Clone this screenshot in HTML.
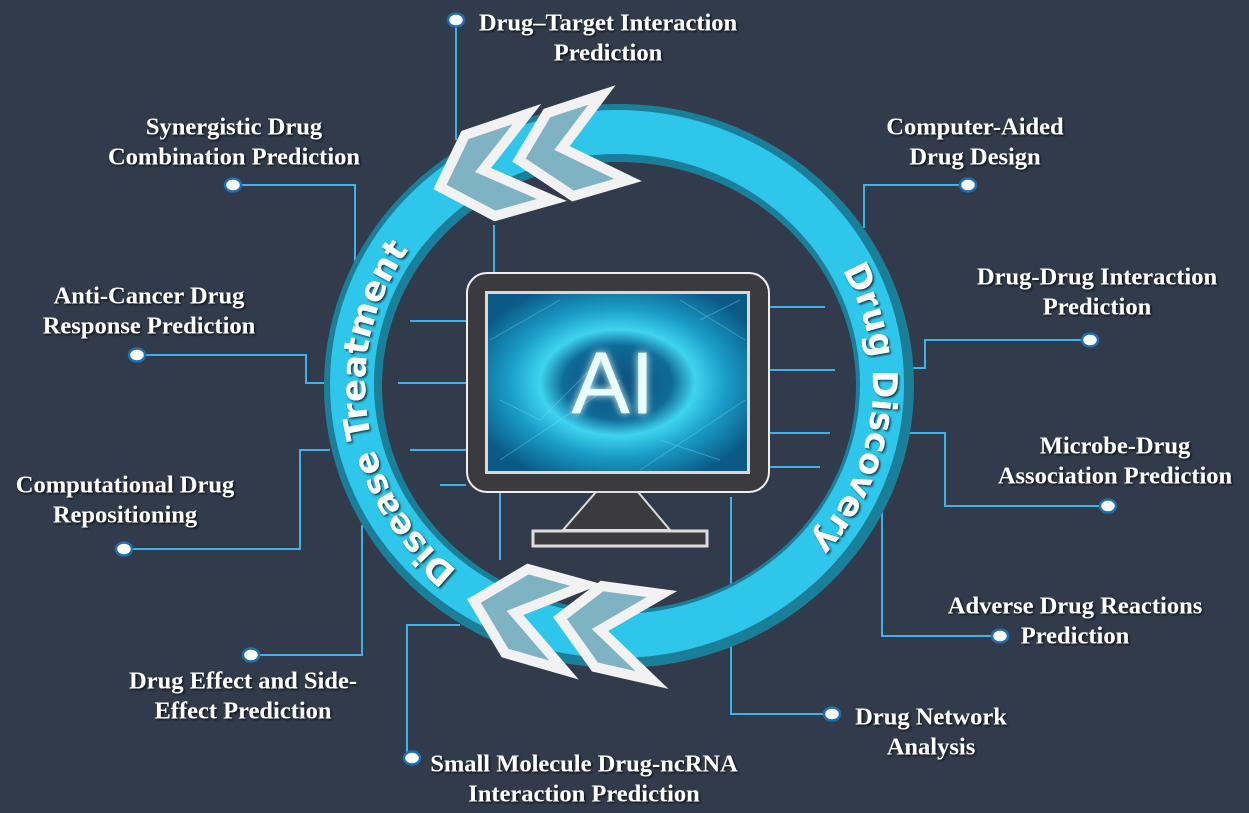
<!DOCTYPE html>
<html><head><meta charset="utf-8"><style>
html,body{margin:0;padding:0;background:#323b4b;}
svg{display:block}
.l{font-family:"Liberation Serif",serif;font-weight:bold;font-size:24.5px;fill:#fff;text-anchor:middle;dominant-baseline:middle;filter:url(#ts)}
.r{font-family:"DejaVu Sans",sans-serif;font-weight:bold;font-size:34px;fill:#fff;filter:url(#ts)}
</style></head><body>
<svg width="1249" height="813" viewBox="0 0 1249 813" xmlns="http://www.w3.org/2000/svg">
<defs>
<filter id="ts" x="-10%" y="-30%" width="120%" height="160%"><feDropShadow dx="1.5" dy="1.5" stdDeviation="1" flood-color="#000" flood-opacity="0.7"/></filter>
<filter id="glow"><feGaussianBlur stdDeviation="4" result="b"/><feMerge><feMergeNode in="b"/><feMergeNode in="SourceGraphic"/></feMerge></filter>
<radialGradient id="scr" cx="0.5" cy="0.5" r="0.6">
<stop offset="0" stop-color="#0a4f7a"/><stop offset="0.35" stop-color="#0f6b98"/><stop offset="0.5" stop-color="#3fd4f0"/><stop offset="0.7" stop-color="#1a9cc8"/><stop offset="1" stop-color="#0b5a86"/></radialGradient>
<path id="rp" d="M 746 176 A 254 241 0 0 1 697 614" fill="none"/>
<path id="lp" d="M 575 622 A 254 241 0 0 1 508 168" fill="none"/>
</defs>
<rect width="1249" height="813" fill="#323b4b"/>
<g stroke="#3fb3e6" stroke-width="2" fill="none">
<polyline points="456,20 456,140"/>
<polyline points="494,225 494,272"/>
<polyline points="233,185 355,185 355,265"/>
<polyline points="137,355 306,355 306,383 330,383"/>
<polyline points="124,549 300,549 300,450 330,450"/>
<polyline points="251,655 362,655 362,525"/>
<polyline points="410,758 407,758 407,625 460,625"/>
<polyline points="832,714 731,714 731,497"/>
<polyline points="1000,636 882,636 882,505"/>
<polyline points="1108,506 945,506 945,433 905,433"/>
<polyline points="1090,340 925,340 925,368 905,368"/>
<polyline points="968,185 864,185 864,228"/>
<polyline points="410,321 466,321"/><polyline points="398,383 466,383"/>
<polyline points="410,450 466,450"/><polyline points="440,485 466,485"/>
<polyline points="770,307 825,307"/><polyline points="770,370 835,370"/>
<polyline points="770,433 830,433"/><polyline points="770,467 820,467"/>
<polyline points="500,492 500,560"/>
</g>
<ellipse cx="619" cy="386" rx="266" ry="253" fill="none" stroke="#1c7f99" stroke-width="58"/>
<ellipse cx="617" cy="384" rx="265" ry="252" fill="none" stroke="#2ec6ea" stroke-width="44"/>
<text class="r"><textPath href="#rp" startOffset="50%" text-anchor="middle">Drug Discovery</textPath></text>
<text class="r"><textPath href="#lp" startOffset="50%" text-anchor="middle">Disease Treatment</textPath></text>
<g fill="#7fb3c4" stroke="#f2f2f2" stroke-width="10" stroke-linejoin="miter">
<polygon points="465,135 527,114 483,170 552,200 495,216 440,187"/>
<polygon points="547,113 602,95 562,148 628,180 573,196 519,160"/>
<polygon points="474,601 528,569 586,585 515,613 564,670 505,653"/>
<polygon points="560,618 602,586 662,594 600,630 652,680 595,667"/>
</g>
<rect x="467" y="273" width="302" height="219" rx="20" fill="#3b3b3d" stroke="#eee" stroke-width="2"/>
<rect x="485" y="291" width="265" height="183" fill="#d8d8d8"/>
<rect x="488" y="294" width="259" height="177" fill="url(#scr)"/>
<g stroke="#7fe6f8" stroke-width="1" opacity="0.35" fill="none">
<path d="M490 340 L560 300 M500 460 L620 380 M640 470 L745 400 M680 300 L745 340 M500 400 L540 420 L600 360 M660 440 L720 460 M700 320 L740 300"/>
</g>
<text x="613" y="390" font-family="Liberation Sans,sans-serif" font-size="88" fill="#eaffff" text-anchor="middle" dominant-baseline="middle" filter="url(#glow)">AI</text>
<polygon points="596,492 638,492 670,530 563,530" fill="#3b3b3d" stroke="#ddd" stroke-width="2"/>
<rect x="533" y="531" width="174" height="15" fill="#3b3b3d" stroke="#ddd" stroke-width="3"/>
<g fill="#fff" stroke="#1f6fb0" stroke-width="2.5">
<ellipse cx="456" cy="20" rx="8" ry="6.5"/><ellipse cx="233" cy="185" rx="8" ry="6.5"/>
<ellipse cx="137" cy="355" rx="8" ry="6.5"/><ellipse cx="124" cy="549" rx="8" ry="6.5"/>
<ellipse cx="251" cy="655" rx="8" ry="6.5"/><ellipse cx="412" cy="758" rx="8" ry="6.5"/>
<ellipse cx="832" cy="714" rx="8" ry="6.5"/><ellipse cx="1000" cy="636" rx="8" ry="6.5"/>
<ellipse cx="1108" cy="506" rx="8" ry="6.5"/><ellipse cx="1090" cy="340" rx="8" ry="6.5"/>
<ellipse cx="968" cy="185" rx="8" ry="6.5"/>
</g>
<g transform="translate(0,2)">
<text class="l" x="608" y="23">Drug–Target Interaction</text><text class="l" x="608" y="53">Prediction</text>
<text class="l" x="234" y="127">Synergistic Drug</text><text class="l" x="234" y="157">Combination Prediction</text>
<text class="l" x="975" y="127">Computer-Aided</text><text class="l" x="975" y="157">Drug Design</text>
<text class="l" x="149" y="296">Anti-Cancer Drug</text><text class="l" x="149" y="326">Response Prediction</text>
<text class="l" x="1097" y="277">Drug-Drug Interaction</text><text class="l" x="1097" y="307">Prediction</text>
<text class="l" x="125" y="485">Computational Drug</text><text class="l" x="125" y="515">Repositioning</text>
<text class="l" x="1115" y="446">Microbe-Drug</text><text class="l" x="1115" y="476">Association Prediction</text>
<text class="l" x="1075" y="606">Adverse Drug Reactions</text><text class="l" x="1075" y="636">Prediction</text>
<text class="l" x="243" y="681">Drug Effect and Side-</text><text class="l" x="243" y="711">Effect Prediction</text>
<text class="l" x="931" y="717">Drug Network</text><text class="l" x="931" y="747">Analysis</text>
<text class="l" x="584" y="764">Small Molecule Drug-ncRNA</text><text class="l" x="584" y="794">Interaction Prediction</text>
</g>
</svg>
</body></html>
